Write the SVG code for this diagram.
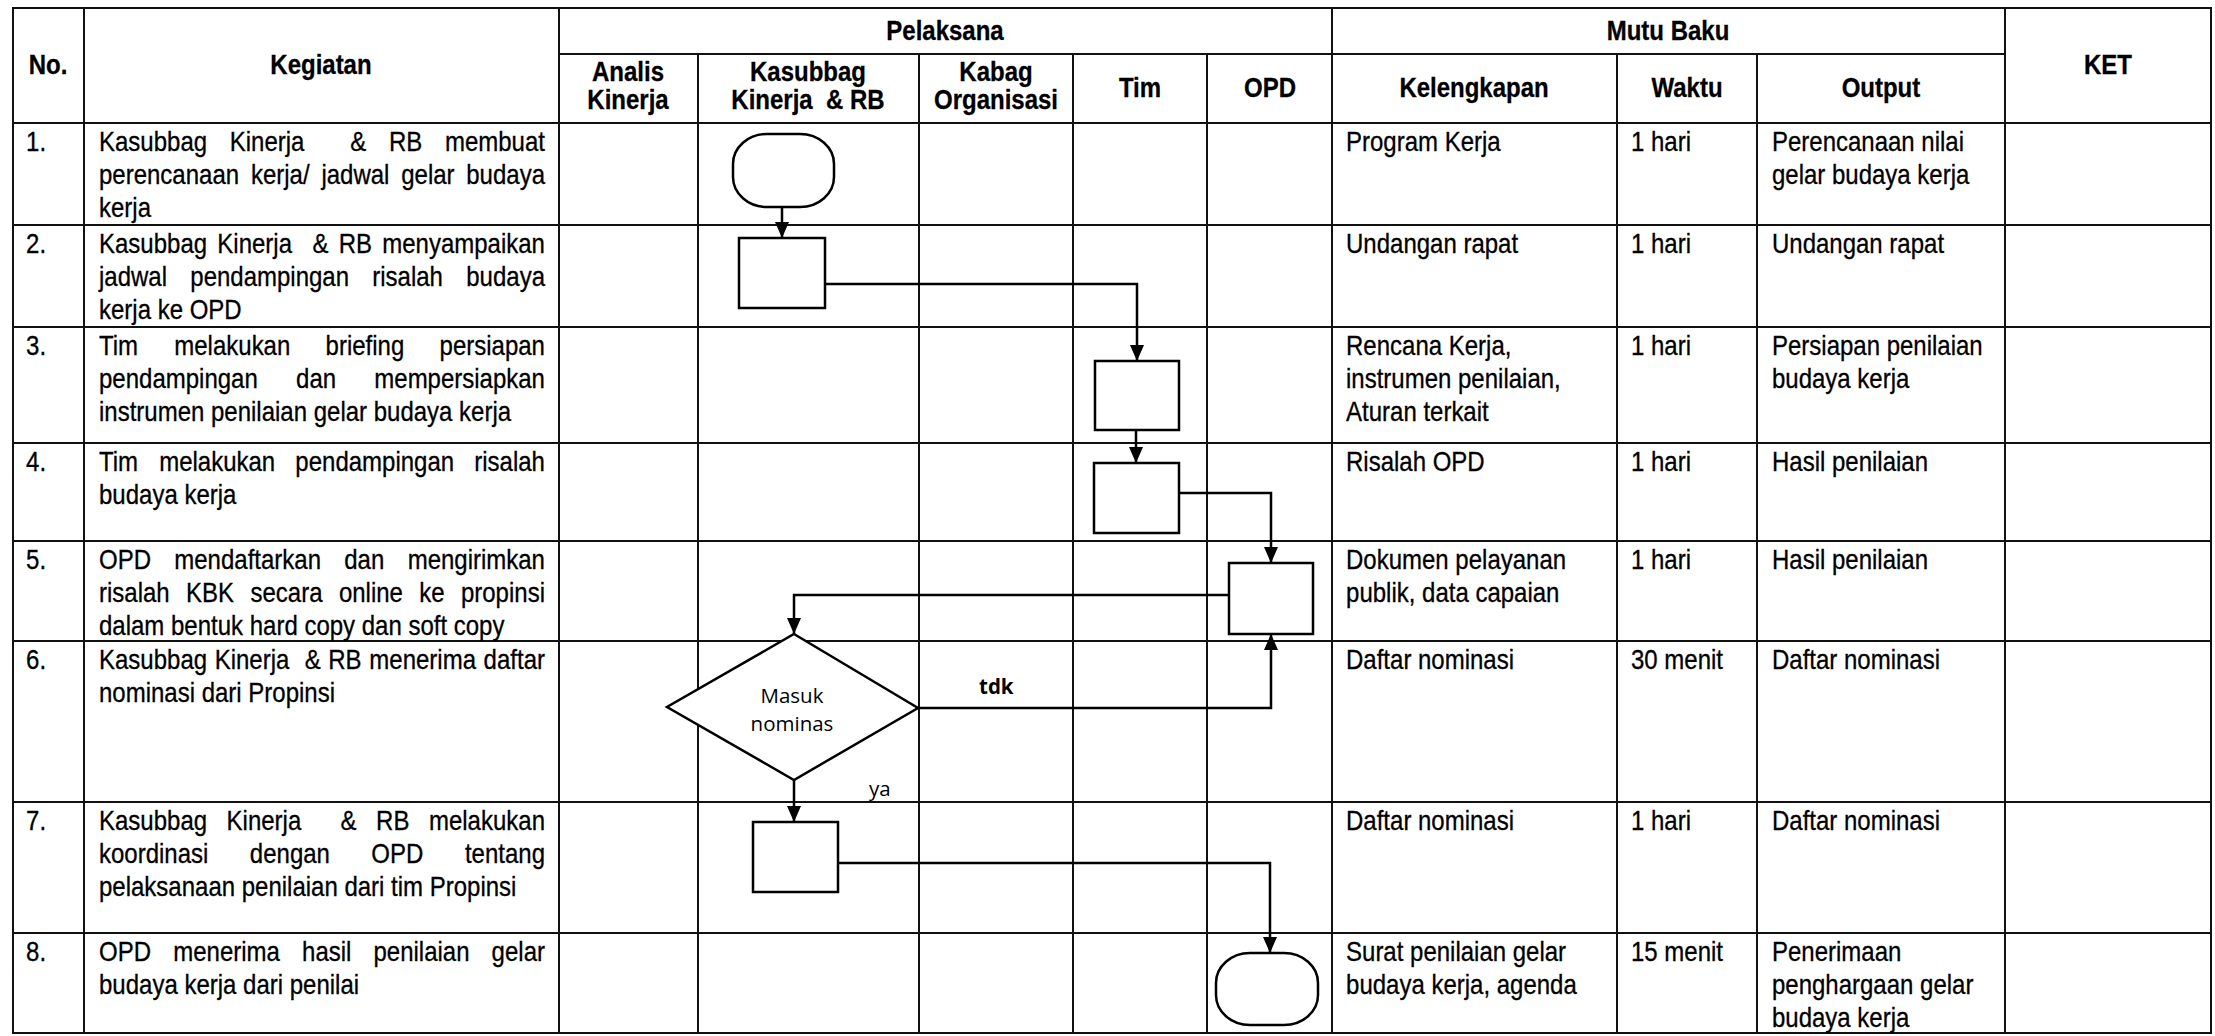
<svg xmlns="http://www.w3.org/2000/svg" width="2215" height="1036" viewBox="0 0 2215 1036">
<style>
.bg{fill:#fff}
.g{stroke:#111;stroke-width:2;fill:none}
.t{font-family:"Liberation Sans",Arial,sans-serif;font-size:27px;fill:#000;stroke:#000;stroke-width:0.3}
.h{font-weight:bold;text-anchor:middle}
.e{text-anchor:end}
.shape{fill:#fff;stroke:#000;stroke-width:2.5}
.conn{fill:none;stroke:#000;stroke-width:2.5}
.lbl{font-family:"Open Sans","Noto Sans",sans-serif;font-size:20.5px;fill:#000}
</style>
<defs>
<marker id="arr" markerUnits="userSpaceOnUse" viewBox="0 0 16 14" refX="16" refY="7" markerWidth="16" markerHeight="14" orient="auto">
<path d="M0,0 L16,7 L0,14 z" fill="#000"/>
</marker>
</defs>
<rect class="bg" x="0" y="0" width="2215" height="1036"/>

<g id="grid" class="g">
<rect x="13" y="8" width="2198" height="1025"/>
<line x1="84" y1="8" x2="84" y2="1033"/>
<line x1="559" y1="8" x2="559" y2="1033"/>
<line x1="698" y1="54" x2="698" y2="1033"/>
<line x1="919" y1="54" x2="919" y2="1033"/>
<line x1="1073" y1="54" x2="1073" y2="1033"/>
<line x1="1207" y1="54" x2="1207" y2="1033"/>
<line x1="1332" y1="8" x2="1332" y2="1033"/>
<line x1="1617" y1="54" x2="1617" y2="1033"/>
<line x1="1757" y1="54" x2="1757" y2="1033"/>
<line x1="2005" y1="8" x2="2005" y2="1033"/>
<line x1="559" y1="54" x2="2005" y2="54"/>
<line x1="13" y1="123" x2="2211" y2="123"/>
<line x1="13" y1="225" x2="2211" y2="225"/>
<line x1="13" y1="327" x2="2211" y2="327"/>
<line x1="13" y1="443" x2="2211" y2="443"/>
<line x1="13" y1="541" x2="2211" y2="541"/>
<line x1="13" y1="641" x2="2211" y2="641"/>
<line x1="13" y1="802" x2="2211" y2="802"/>
<line x1="13" y1="933" x2="2211" y2="933"/>
</g>

<g id="table-text" transform="scale(0.88889,1)">
<g id="header" class="t h">
<text x="54" y="74">No.</text>
<text x="361.1" y="74">Kegiatan</text>
<text x="1063.1" y="40">Pelaksana</text>
<text x="1876.5" y="40">Mutu Baku</text>
<text x="2371.5" y="74">KET</text>
<text x="706.5" y="81">Analis</text>
<text x="706.5" y="109">Kinerja</text>
<text x="909" y="81">Kasubbag</text>
<text x="909" y="109" xml:space="preserve">Kinerja  &amp; RB</text>
<text x="1120.5" y="81">Kabag</text>
<text x="1120.5" y="109">Organisasi</text>
<text x="1282.5" y="97">Tim</text>
<text x="1428.8" y="97">OPD</text>
<text x="1658.3" y="97">Kelengkapan</text>
<text x="1897.9" y="97">Waktu</text>
<text x="2116.1" y="97">Output</text>
</g>

<g id="row1" class="t">
<text x="29.3" y="151">1.</text>
<text x="111.4" y="151">Kasubbag</text><text x="258.5" y="151">Kinerja</text><text x="393.9" y="151">&amp;</text><text x="437.5" y="151">RB</text><text class="e" x="613.1" y="151">membuat</text>
<text x="111.4" y="184">perencanaan</text><text x="282.3" y="184">kerja/</text><text x="361.6" y="184">jadwal</text><text x="451.4" y="184">gelar</text><text class="e" x="613.1" y="184">budaya</text>
<text x="111.4" y="217">kerja</text>
<text x="1514.3" y="151">Program Kerja</text>
<text x="1834.9" y="151">1 hari</text>
<text x="1993.5" y="151">Perencanaan nilai</text>
<text x="1993.5" y="184">gelar budaya kerja</text>
</g>

<g id="row2" class="t">
<text x="29.3" y="253">2.</text>
<text x="111.4" y="253">Kasubbag</text><text x="244.5" y="253">Kinerja</text><text x="351.6" y="253">&amp;</text><text x="381" y="253">RB</text><text class="e" x="613.1" y="253">menyampaikan</text>
<text x="111.4" y="286">jadwal</text><text x="214.1" y="286">pendampingan</text><text x="418.8" y="286">risalah</text><text class="e" x="613.1" y="286">budaya</text>
<text x="111.4" y="319">kerja ke OPD</text>
<text x="1514.3" y="253">Undangan rapat</text>
<text x="1834.9" y="253">1 hari</text>
<text x="1993.5" y="253">Undangan rapat</text>
</g>

<g id="row3" class="t">
<text x="29.3" y="355">3.</text>
<text x="111.4" y="355">Tim</text><text x="196.1" y="355">melakukan</text><text x="366.3" y="355">briefing</text><text class="e" x="613.1" y="355">persiapan</text>
<text x="111.4" y="388">pendampingan</text><text x="333.1" y="388">dan</text><text class="e" x="613.1" y="388">mempersiapkan</text>
<text x="111.4" y="421">instrumen penilaian gelar budaya kerja</text>
<text x="1514.3" y="355">Rencana Kerja,</text>
<text x="1514.3" y="388">instrumen penilaian,</text>
<text x="1514.3" y="421">Aturan terkait</text>
<text x="1834.9" y="355">1 hari</text>
<text x="1993.5" y="355">Persiapan penilaian</text>
<text x="1993.5" y="388">budaya kerja</text>
</g>

<g id="row4" class="t">
<text x="29.3" y="471">4.</text>
<text x="111.4" y="471">Tim</text><text x="179.1" y="471">melakukan</text><text x="332.3" y="471">pendampingan</text><text class="e" x="613.1" y="471">risalah</text>
<text x="111.4" y="504">budaya kerja</text>
<text x="1514.3" y="471">Risalah OPD</text>
<text x="1834.9" y="471">1 hari</text>
<text x="1993.5" y="471">Hasil penilaian</text>
</g>

<g id="row5" class="t">
<text x="29.3" y="569">5.</text>
<text x="111.4" y="569">OPD</text><text x="196.1" y="569">mendaftarkan</text><text x="387.3" y="569">dan</text><text class="e" x="613.1" y="569">mengirimkan</text>
<text x="111.4" y="602">risalah</text><text x="209.4" y="602">KBK</text><text x="281.8" y="602">secara</text><text x="381.3" y="602">online</text><text x="471.7" y="602">ke</text><text class="e" x="613.1" y="602">propinsi</text>
<text x="111.4" y="635">dalam bentuk hard copy dan soft copy</text>
<text x="1514.3" y="569">Dokumen pelayanan</text>
<text x="1514.3" y="602">publik, data capaian</text>
<text x="1834.9" y="569">1 hari</text>
<text x="1993.5" y="569">Hasil penilaian</text>
</g>

<g id="row6" class="t">
<text x="29.3" y="669">6.</text>
<text x="111.4" y="669">Kasubbag</text><text x="241.5" y="669">Kinerja</text><text x="342.8" y="669">&amp;</text><text x="369.3" y="669">RB</text><text x="415.5" y="669">menerima</text><text class="e" x="613.1" y="669">daftar</text>
<text x="111.4" y="702">nominasi dari Propinsi</text>
<text x="1514.3" y="669">Daftar nominasi</text>
<text x="1834.9" y="669">30 menit</text>
<text x="1993.5" y="669">Daftar nominasi</text>
</g>

<g id="row7" class="t">
<text x="29.3" y="830">7.</text>
<text x="111.4" y="830">Kasubbag</text><text x="254.9" y="830">Kinerja</text><text x="383.1" y="830">&amp;</text><text x="423.1" y="830">RB</text><text class="e" x="613.1" y="830">melakukan</text>
<text x="111.4" y="863">koordinasi</text><text x="281.1" y="863">dengan</text><text x="417.8" y="863">OPD</text><text class="e" x="613.1" y="863">tentang</text>
<text x="111.4" y="896">pelaksanaan penilaian dari tim Propinsi</text>
<text x="1514.3" y="830">Daftar nominasi</text>
<text x="1834.9" y="830">1 hari</text>
<text x="1993.5" y="830">Daftar nominasi</text>
</g>

<g id="row8" class="t">
<text x="29.3" y="961">8.</text>
<text x="111.4" y="961">OPD</text><text x="194.9" y="961">menerima</text><text x="339.8" y="961">hasil</text><text x="420.2" y="961">penilaian</text><text class="e" x="613.1" y="961">gelar</text>
<text x="111.4" y="994">budaya kerja dari penilai</text>
<text x="1514.3" y="961">Surat penilaian gelar</text>
<text x="1514.3" y="994">budaya kerja, agenda</text>
<text x="1834.9" y="961">15 menit</text>
<text x="1993.5" y="961">Penerimaan</text>
<text x="1993.5" y="994">penghargaan gelar</text>
<text x="1993.5" y="1027">budaya kerja</text>
</g>
</g>

<g id="connectors" class="conn">
<path d="M782,207 V238" marker-end="url(#arr)"/>
<path d="M825,284 H1137 V361" marker-end="url(#arr)"/>
<path d="M1136,430 V463" marker-end="url(#arr)"/>
<path d="M1179,493 H1271 V563" marker-end="url(#arr)"/>
<path d="M1229,595 H794 V634" marker-end="url(#arr)"/>
<path d="M918,708 H1271 V634" marker-end="url(#arr)"/>
<path d="M794,780 V822" marker-end="url(#arr)"/>
<path d="M838,863 H1270 V953" marker-end="url(#arr)"/>
</g>
<g id="connector-labels" class="lbl">
<text x="979" y="694" font-weight="bold">tdk</text>
<text x="869" y="796">ya</text>
</g>

<g id="start"><rect class="shape" x="733" y="134" width="101" height="73" rx="34" ry="30"/></g>
<g id="step2"><rect class="shape" x="739" y="238" width="86" height="70"/></g>
<g id="step3"><rect class="shape" x="1095" y="361" width="84" height="69"/></g>
<g id="step4"><rect class="shape" x="1094" y="463" width="85" height="70"/></g>
<g id="step5"><rect class="shape" x="1229" y="563" width="84" height="71"/></g>
<g id="decision">
<polygon class="shape" points="794,634 918,708 794,780 667,707"/>
<text class="lbl" x="792" y="703" text-anchor="middle">Masuk</text>
<text class="lbl" x="792" y="731" text-anchor="middle">nominas</text>
</g>
<g id="step7"><rect class="shape" x="753" y="822" width="85" height="70"/></g>
<g id="end"><rect class="shape" x="1216" y="953" width="102" height="72" rx="34" ry="30"/></g>
</svg>
